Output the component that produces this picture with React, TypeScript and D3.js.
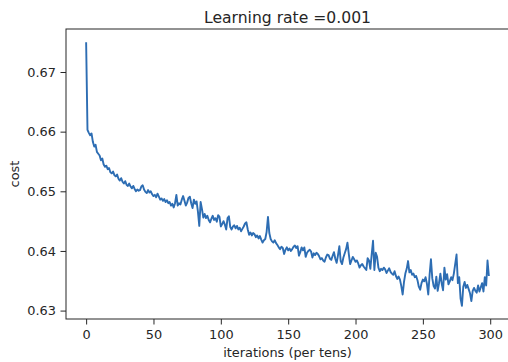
import React, { useRef, useEffect } from 'react';
import * as d3 from 'd3';

const costs: number[] = [
  0.6750, 0.6603, 0.6598, 0.6594, 0.6597, 0.6583, 0.6575, 0.6578, 0.6566, 0.6563,
  0.6560, 0.6552, 0.6555, 0.6545, 0.6541, 0.6543, 0.6537, 0.6539, 0.6532, 0.6530,
  0.6533, 0.6527, 0.6525, 0.6528, 0.6521, 0.6518, 0.6522, 0.6516, 0.6513, 0.6517,
  0.6511, 0.6509, 0.6513, 0.6508, 0.6505, 0.6509, 0.6504, 0.6500, 0.6503, 0.6501,
  0.6502, 0.6508, 0.6510, 0.6503, 0.6499, 0.6497, 0.6502, 0.6498, 0.6500, 0.6495,
  0.6492, 0.6494, 0.6490, 0.6496, 0.6491, 0.6486, 0.6488, 0.6484, 0.6487, 0.6482,
  0.6485, 0.6480, 0.6482, 0.6476, 0.6479, 0.6473, 0.6480, 0.6494, 0.6476, 0.6480,
  0.6478, 0.6486, 0.6492, 0.6484, 0.6476, 0.6481, 0.6489, 0.6491, 0.6480, 0.6472,
  0.6486, 0.6479, 0.6483, 0.6466, 0.6442, 0.6482, 0.6470, 0.6456, 0.6462, 0.6455,
  0.6459, 0.6452, 0.6448, 0.6454, 0.6459, 0.6452, 0.6455, 0.6449, 0.6460, 0.6457,
  0.6441, 0.6445, 0.6450, 0.6444, 0.6436, 0.6455, 0.6458, 0.6440, 0.6436, 0.6441,
  0.6443, 0.6438, 0.6442, 0.6436, 0.6439, 0.6433, 0.6437, 0.6441, 0.6446, 0.6448,
  0.6436, 0.6427, 0.6431, 0.6426, 0.6430, 0.6428, 0.6423, 0.6426, 0.6421, 0.6425,
  0.6419, 0.6414, 0.6418, 0.6420, 0.6432, 0.6457, 0.6430, 0.6420, 0.6416, 0.6414,
  0.6418, 0.6413, 0.6410, 0.6406, 0.6403, 0.6407, 0.6405, 0.6395, 0.6402, 0.6406,
  0.6401, 0.6404, 0.6400, 0.6403, 0.6407, 0.6409, 0.6405, 0.6408, 0.6392, 0.6398,
  0.6406, 0.6401, 0.6406, 0.6390, 0.6397, 0.6400, 0.6402, 0.6399, 0.6389, 0.6396,
  0.6393, 0.6397, 0.6395, 0.6391, 0.6386, 0.6388, 0.6384, 0.6382, 0.6389, 0.6394,
  0.6393, 0.6387, 0.6385, 0.6392, 0.6398, 0.6387, 0.6380, 0.6393, 0.6408, 0.6383,
  0.6378, 0.6389, 0.6396, 0.6403, 0.6414, 0.6395, 0.6378, 0.6384, 0.6390, 0.6386,
  0.6382, 0.6384, 0.6379, 0.6372, 0.6376, 0.6378, 0.6374, 0.6371, 0.6368, 0.6388,
  0.6384, 0.6370, 0.6394, 0.6417, 0.6368, 0.6397, 0.6390, 0.6372, 0.6366, 0.6370,
  0.6368, 0.6372, 0.6369, 0.6363, 0.6367, 0.6371, 0.6365, 0.6362, 0.6360, 0.6366,
  0.6358, 0.6353, 0.6357, 0.6352, 0.6341, 0.6327, 0.6348, 0.6362, 0.6370, 0.6383,
  0.6364, 0.6368, 0.6360, 0.6362, 0.6356, 0.6358, 0.6351, 0.6340, 0.6335, 0.6346,
  0.6352, 0.6349, 0.6356, 0.6345, 0.6327, 0.6360, 0.6386, 0.6354, 0.6341, 0.6337,
  0.6357, 0.6333, 0.6346, 0.6362, 0.6345, 0.6334, 0.6372, 0.6352, 0.6361, 0.6344,
  0.6349, 0.6356, 0.6351, 0.6362, 0.6378, 0.6394, 0.6346, 0.6356, 0.6320, 0.6308,
  0.6340, 0.6348, 0.6338, 0.6343, 0.6336, 0.6329, 0.6316, 0.6333, 0.6338, 0.6333,
  0.6330, 0.6342, 0.6332, 0.6339, 0.6346, 0.6332, 0.6356, 0.6342, 0.6384, 0.6358,
];

const xTicks = [0, 50, 100, 150, 200, 250, 300];
const yTicks = [0.63, 0.64, 0.65, 0.66, 0.67];
const title = 'Learning rate =0.001';
const xLabel = 'iterations (per tens)';
const yLabel = 'cost';

const CostChart: React.FC = () => {
  const svgRef = useRef<SVGSVGElement | null>(null);

  const width = 508;
  const height = 362;
  const marginTop = 29;
  const marginBottom = 43;
  const marginLeft = 66;
  const plotRight = 509; // right spine sits just past the picture edge

  useEffect(() => {
    if (!svgRef.current) {
      return;
    }
    const svg = d3.select(svgRef.current);
    svg.selectAll('*').remove();

    const font = '"DejaVu Sans", sans-serif';
    const ink = '#262626';

    // matplotlib style 5% padding around the data
    const n = costs.length - 1;
    const xPad = n * 0.05;
    const [yMin, yMax] = d3.extent(costs) as [number, number];
    const yPad = (yMax - yMin) * 0.05;

    const x = d3.scaleLinear()
      .domain([-xPad, n + xPad])
      .range([marginLeft, plotRight]);

    const y = d3.scaleLinear()
      .domain([yMin - yPad, yMax + yPad])
      .range([height - marginBottom, marginTop]);

    // the cost curve
    const line = d3.line<number>()
      .x((_, i) => x(i))
      .y(d => y(d));

    svg.append('path')
      .datum(costs)
      .attr('fill', 'none')
      .attr('stroke', '#2d6db3')
      .attr('stroke-width', 1.9)
      .attr('stroke-linejoin', 'round')
      .attr('d', line);

    // x-axis
    svg.append('g')
      .attr('transform', `translate(0,${height - marginBottom})`)
      .call(d3.axisBottom(x).tickValues(xTicks).tickSize(5.5).tickPadding(5).tickFormat(d3.format('d')))
      .call(g => g.select('.domain').remove())
      .call(g => g.selectAll('line').attr('stroke', ink).attr('stroke-width', 1))
      .call(g => g.selectAll('text')
        .attr('fill', ink)
        .style('font-family', font)
        .style('font-size', '12.9px'));

    // y-axis
    svg.append('g')
      .attr('transform', `translate(${marginLeft},0)`)
      .call(d3.axisLeft(y).tickValues(yTicks).tickSize(5.5).tickPadding(4.5).tickFormat(d3.format('.2f')))
      .call(g => g.select('.domain').remove())
      .call(g => g.selectAll('line').attr('stroke', ink).attr('stroke-width', 1))
      .call(g => g.selectAll('text')
        .attr('fill', ink)
        .style('font-family', font)
        .style('font-size', '12.9px'));

    // frame
    svg.append('rect')
      .attr('x', marginLeft)
      .attr('y', marginTop)
      .attr('width', plotRight - marginLeft)
      .attr('height', height - marginBottom - marginTop)
      .attr('fill', 'none')
      .attr('stroke', ink)
      .attr('stroke-width', 1);

    const mid = (marginLeft + plotRight) / 2;

    svg.append('text')
      .attr('x', mid)
      .attr('y', 22.5)
      .attr('text-anchor', 'middle')
      .attr('fill', ink)
      .style('font-family', font)
      .style('font-size', '15.6px')
      .text(title);

    svg.append('text')
      .attr('x', mid)
      .attr('y', 356.5)
      .attr('text-anchor', 'middle')
      .attr('fill', ink)
      .style('font-family', font)
      .style('font-size', '12.9px')
      .text(xLabel);

    svg.append('text')
      .attr('transform', `translate(18.5,${(marginTop + height - marginBottom) / 2}) rotate(-90)`)
      .attr('text-anchor', 'middle')
      .attr('fill', ink)
      .style('font-family', font)
      .style('font-size', '12.9px')
      .text(yLabel);
  }, [svgRef]);

  return (
    <svg
      ref={svgRef}
      width={width}
      height={height}
      style={{ position: 'absolute', left: 0, top: 0, background: '#fff' }}
    />
  );
};

export default function App() {
  return <CostChart />;
}
